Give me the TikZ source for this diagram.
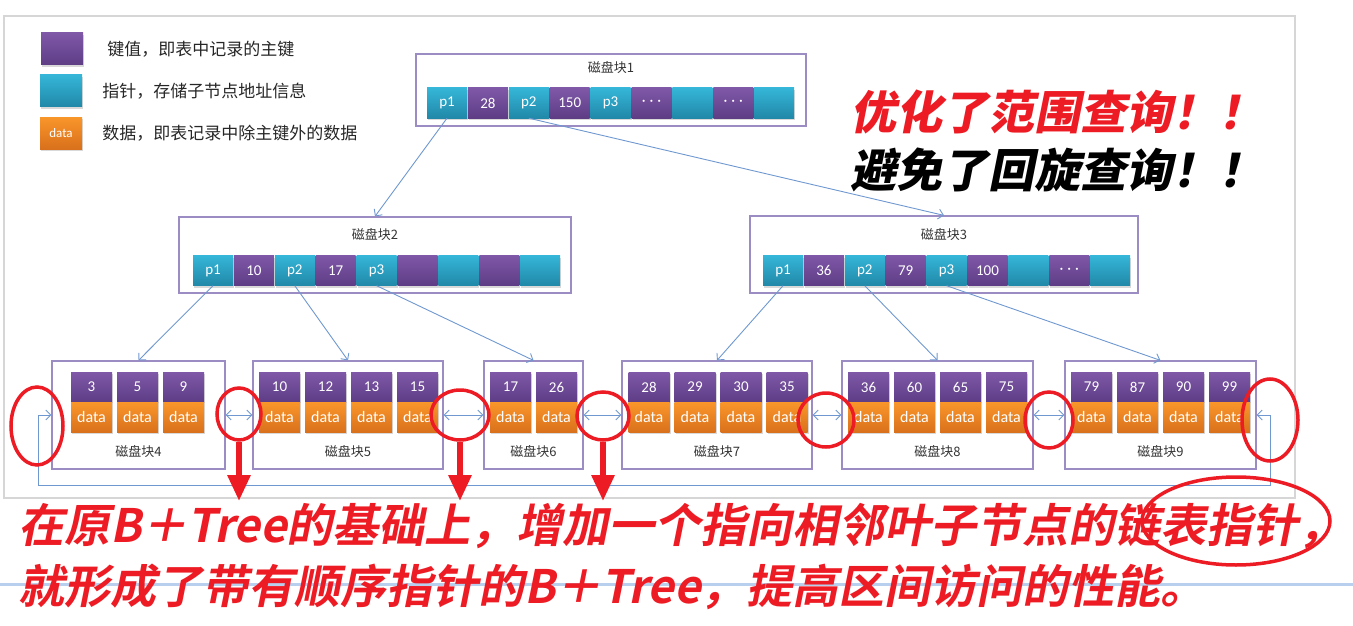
\documentclass[tikz,border=0pt]{standalone}
\usepackage{fontspec}
\setmainfont{Carlito}
\newfontfamily\cjk{Noto Sans CJK SC}
\newfontfamily\cjkblack[FakeSlant=0.2]{Noto Sans CJK SC Black}
\newfontfamily\cjkbold[FakeSlant=0.2]{Noto Sans CJK SC Bold}
\usetikzlibrary{arrows.meta, positioning, shadows, shapes.geometric}

\definecolor{keytop}{HTML}{7F58A8}
\definecolor{keybot}{HTML}{5E3D85}
\definecolor{ptrtop}{HTML}{35B6D8}
\definecolor{ptrbot}{HTML}{2188A8}
\definecolor{datatop}{HTML}{F9962A}
\definecolor{databot}{HTML}{D9701C}
\definecolor{framelilac}{HTML}{9C8CC4}
\definecolor{linkblue}{HTML}{6F98D0}
\definecolor{markred}{HTML}{ED1C24}
\definecolor{framegray}{HTML}{D6D6D6}
\definecolor{slideblue}{HTML}{B8D0EE}

\newcommand\cdotrow{·\kern4pt·\kern4pt·}

\begin{document}
\begin{tikzpicture}[x=1pt, y=-1pt,
  cell/.style={minimum width=40pt, minimum height=30pt, inner sep=0pt, text=white,
    font=\fontsize{15}{15}\selectfont,
    drop shadow={opacity=0.3, shadow xshift=1pt, shadow yshift=-2pt}},
  keycell/.style={cell, top color=keytop, bottom color=keybot},
  ptrcell/.style={cell, top color=ptrtop, bottom color=ptrbot},
  datacell/.style={cell, top color=datatop, bottom color=databot, font=\fontsize{16}{16}\selectfont},
  leafkey/.style={keycell, minimum width=41pt},
  leafdata/.style={datacell, minimum width=41pt},
  blockframe/.style={draw=framelilac, line width=1.2pt, inner sep=0pt},
  blocktitle/.style={font=\cjk\fontsize{13}{13}\selectfont, text=black!80},
  legendtext/.style={font=\cjk\fontsize{17}{17}\selectfont, text=black!85, inner sep=0pt},
  link/.style={draw=linkblue, line width=0.9pt, -{Straight Barb[length=5pt,width=10pt]}},
  twoway/.style={link, {Straight Barb[length=5pt,width=10pt]}-{Straight Barb[length=5pt,width=10pt]}},
  ring/.style={ellipse, draw=markred, line width=3.5pt, inner sep=0pt},
  redarrow/.style={draw=markred, line width=6pt, -{Triangle[length=26pt,width=22pt]}},
  slogan/.style={font=\cjkblack\fontsize{46}{46}\selectfont, anchor=west, inner sep=0pt},
  noteline/.style={font=\cjkbold\fontsize{46}{46}\selectfont, text=markred, anchor=west, inner sep=0pt}]
\useasboundingbox (0,0) rectangle (1353,626);

% slide background
\draw[slideblue, line width=3pt] (0,584) -- (1353,584);
\draw[framegray, line width=1.5pt] (4,16) rectangle (1295,498);

% legend
\node[keycell, minimum width=42pt, minimum height=32pt] (lgkey) at (62,49) {};
\node[ptrcell, minimum width=42pt, minimum height=32pt] (lgptr) at (61,91) {};
\node[datacell, minimum width=42pt, minimum height=32pt, font=\fontsize{13}{13}\selectfont] (lgdata) at (61,133) {data};
\node[legendtext, right=24pt of lgkey] (lgkeytext) {键值，即表中记录的主键};
\node[legendtext, right=20pt of lgptr] (lgptrtext) {指针，存储子节点地址信息};
\node[legendtext, right=20pt of lgdata] (lgdatatext) {数据，即表记录中除主键外的数据};

% root block
\node[blockframe, minimum width=390, minimum height=72] (blk1) at (611,90) {};
\node[blocktitle] (t1) at (611,68) {磁盘块1};
\node[ptrcell] (a1) at (447,103) {p1};
\foreach \s/\t/\c/\l in {a2/a1/keycell/28, a3/a2/ptrcell/p2, a4/a3/keycell/150, a5/a4/ptrcell/p3,
    a6/a5/keycell/\cdotrow, a7/a6/ptrcell/{}, a8/a7/keycell/\cdotrow, a9/a8/ptrcell/{}}{
  \node[\c, right=0.5pt of \t] (\s) {\l};}

% inner blocks
\node[blockframe, minimum width=392, minimum height=76] (blk2) at (375,255) {};
\node[blocktitle] (t2) at (375,235) {磁盘块2};
\node[ptrcell] (b1) at (213,270.5) {p1};
\foreach \s/\t/\c/\l in {b2/b1/keycell/10, b3/b2/ptrcell/p2, b4/b3/keycell/17, b5/b4/ptrcell/p3,
    b6/b5/keycell/{}, b7/b6/ptrcell/{}, b8/b7/keycell/{}, b9/b8/ptrcell/{}}{
  \node[\c, right=0.5pt of \t] (\s) {\l};}

\node[blockframe, minimum width=388, minimum height=77] (blk3) at (944,254.5) {};
\node[blocktitle] (t3) at (944,235) {磁盘块3};
\node[ptrcell] (c1) at (783,270.5) {p1};
\foreach \s/\t/\c/\l in {c2/c1/keycell/36, c3/c2/ptrcell/p2, c4/c3/keycell/79, c5/c4/ptrcell/p3,
    c6/c5/keycell/100, c7/c6/ptrcell/{}, c8/c7/keycell/\cdotrow, c9/c8/ptrcell/{}}{
  \node[\c, right=0.5pt of \t] (\s) {\l};}

% leaf blocks
\foreach \b/\cx/\w/\fx/\keys in {4/138.5/173/91.5/{3,5,9}, 5/348/190/279.5/{10,12,13,15},
    6/533.5/99/510.5/{17,26}, 7/717/190/649/{28,29,30,35},
    8/937.5/191/868.5/{36,60,65,75}, 9/1160.5/191/1091.5/{79,87,90,99}}{
  \node[blockframe, minimum width=\w, minimum height=108] (blk\b) at (\cx,415) {};
  \node[blocktitle] (t\b) at (\cx,452) {磁盘块\b};
  \foreach \k [count=\i] in \keys {
    \node[leafkey] (k\b\i) at ({\fx+46*(\i-1)},387) {\k};
    \node[leafdata, below=0pt of k\b\i] (d\b\i) {data};}
}

% tree pointers
\foreach \s/\t in {a1/blk2, a3/blk3, b1/blk4, b3/blk5, b5/blk6, c1/blk7, c3/blk8, c5/blk9}{
  \draw[link] (\s.south) -- (\t.north);}

% leaf links
\foreach \s/\t in {blk4/blk5, blk5/blk6, blk6/blk7, blk7/blk8, blk8/blk9}{
  \draw[twoway] (\s.east) -- (\t.west);}
\coordinate (loopturn) at (1270,485);
\coordinate (loopend) at (38,485);
\draw[twoway] (blk9.east) -- (blk9.east -| loopturn) -- (loopturn) -- (loopend)
  -- (loopend |- blk4.west) -- (blk4.west);

% notes
\node[slogan, text=markred] (slogan1) at (850,112) {优化了范围查询！！};
\node[slogan, text=black] (slogan2) at (850,170) {避免了回旋查询！！};
\node[noteline] (note1) at (18,526) {在原B＋Tree的基础上，增加一个指向相邻叶子节点的链表指针，};
\node[noteline] (note2) at (18,587) {就形成了带有顺序指针的B＋Tree，提高区间访问的性能。};

% red marks
\foreach \n/\p/\w/\h in {r1/{37,426}/52/78, r2/{239,414}/44/52, r3/{460,415}/58/50,
    r4/{603,416}/52/48, r5/{826,420}/56/54, r6/{1049,420}/48/56,
    r7/{1270,420}/56/82, r8/{1236,521}/188/88}{
  \node[ring, minimum width=\w, minimum height=\h] (\n) at (\p) {};}
\coordinate (tipline) at (0,501);
\foreach \s in {r2, r3, r4}{
  \draw[redarrow] (\s.south) -- (\s.south |- tipline);}
\end{tikzpicture}
\end{document}
